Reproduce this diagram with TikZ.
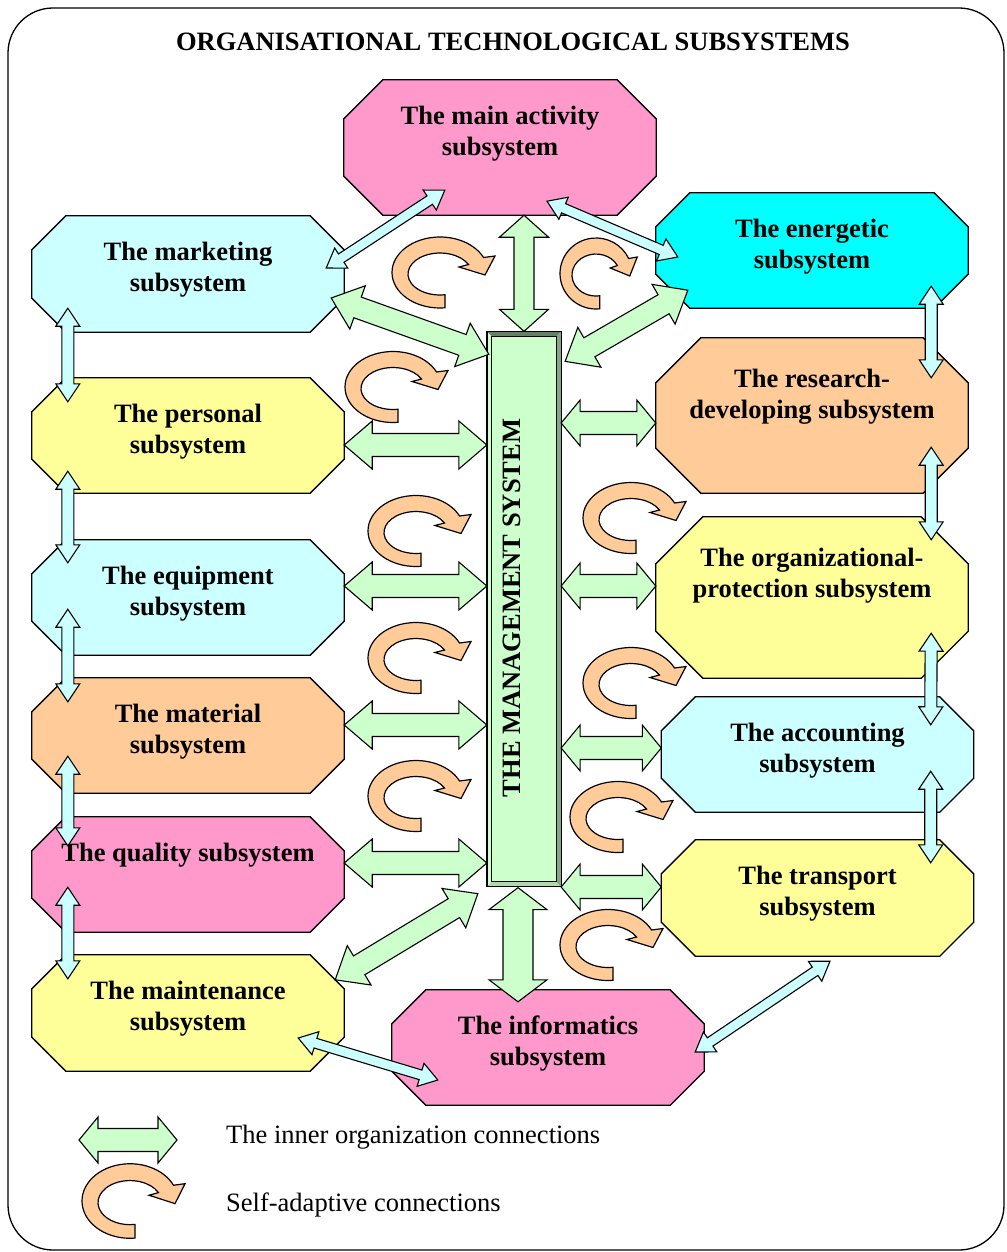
\documentclass[tikz,border=0pt]{standalone}
\usepackage{fontspec}
\setmainfont{Liberation Serif}
\usetikzlibrary{calc}

\definecolor{pinkbox}{HTML}{FF99CC}
\definecolor{lcyan}{HTML}{CCFFFF}
\definecolor{cyanbox}{HTML}{00FFFF}
\definecolor{peach}{HTML}{FFCC99}
\definecolor{lyellow}{HTML}{FFFF99}
\definecolor{lgreen}{HTML}{CCFFCC}

\tikzset{
  subsys/.style={minimum width=312pt, minimum height=#1pt, inner sep=0pt},
  boxtext/.style={font=\bfseries\fontsize{26.5}{31}\selectfont, align=center, inner sep=0pt, anchor=north},
  greenarrow/.style={fill=lgreen, draw=black, line width=1.1pt},
  linkarrow/.style={fill=lcyan, draw=black, line width=1.1pt},
  curl/.pic={
    \begin{scope}[yscale=-1]
      \filldraw[fill=peach, line width=1.2pt]
        (-84:48 and 35.5) arc[start angle=-84, end angle=-335, x radius=48, y radius=35.5]
        -- (55,16.5) -- (45,-2.5) -- (19,5.5) -- (28.5,8)
        arc[start angle=-333, end angle=-81, x radius=32, y radius=21] -- cycle;
    \end{scope}
  },
}

% octagon round a named box: name, chamfer, fill
\newcommand\octagon[3]{%
  \filldraw[fill=#3, line width=1.3pt]
    ($(#1.north west)+(#2pt,0pt)$) -- ($(#1.north east)+(-#2pt,0pt)$)
    -- ($(#1.north east)+(0pt,-#2pt)$) -- ($(#1.south east)+(0pt,#2pt)$)
    -- ($(#1.south east)+(-#2pt,0pt)$) -- ($(#1.south west)+(#2pt,0pt)$)
    -- ($(#1.south west)+(0pt,#2pt)$) -- ($(#1.north west)+(0pt,-#2pt)$) -- cycle;}

% block arrow with two heads: style, from, to, shaft, head, head length
\newcommand\dblarrow[6][greenarrow]{%
  \path let \p1=#2, \p2=#3 in \pgfextra{%
    \pgfmathsetmacro\arrang{atan2(\y2-\y1,\x2-\x1)}%
    \pgfmathsetmacro\arrlen{veclen(\x2-\x1,\y2-\y1)}%
    \pgfmathsetmacro\arrmid{\arrlen-#6}%
    \xdef\arrang{\arrang}\xdef\arrlen{\arrlen}\xdef\arrmid{\arrmid}};
  \filldraw[#1, shift={#2}, rotate=\arrang]
    (0pt,0pt) -- (#6pt,#5pt) -- (#6pt,#4pt) -- (\arrmid pt,#4pt) -- (\arrmid pt,#5pt)
    -- (\arrlen pt,0pt) -- (\arrmid pt,-#5pt) -- (\arrmid pt,-#4pt) -- (#6pt,-#4pt)
    -- (#6pt,-#5pt) -- cycle;}

\begin{document}
\begin{tikzpicture}[x=1pt,y=-1pt]
    \useasboundingbox (0,0) rectangle (1006,1252);
    % frame and title
    \draw[line width=1.3pt, rounded corners=45pt] (8,8) rectangle (1004,1250);
    \node[font=\bfseries\fontsize{26.5}{31}\selectfont] (title) at (513,42) {ORGANISATIONAL TECHNOLOGICAL SUBSYSTEMS};
    % subsystems
    \foreach \sub/\cx/\cy/\h/\ch/\col/\off/\txt in {
        main/500/147.5/135/39/pinkbox/26/{The main activity\\subsystem},
        mkt/188/274/116/34/lcyan/26/{The marketing\\subsystem},
        ene/812/250.5/115/34/cyanbox/26/{The energetic\\subsystem},
        res/812/415.5/155/45/peach/31/{The research-\\developing subsystem},
        per/188/435.5/115/34/lyellow/26/{The personal\\subsystem},
        org/812/597.5/161/47/lyellow/31/{The organizational-\\protection subsystem},
        equ/188/597.5/115/34/lcyan/26/{The equipment\\subsystem},
        mat/188/735.5/115/34/peach/26/{The material\\subsystem},
        acc/817.5/754.5/115/34/lcyan/26/{The accounting\\subsystem},
        qua/188/874.5/115/34/pinkbox/26/{The quality subsystem},
        tra/817.5/898/116/34/lyellow/26/{The transport\\subsystem},
        mai/188/1013/116/34/lyellow/26/{The maintenance\\subsystem},
        inf/548/1047.5/115/34/pinkbox/26/{The informatics\\subsystem}} {
        \node[subsys=\h] (\sub) at (\cx,\cy) {};
        \octagon{\sub}{\ch}{\col}
        \node[boxtext] (\sub-t) at ($(\sub.north)+(0,\off)$) {\txt};
    }
    % management system
    \node[draw, line width=1.3pt, fill=lgreen, minimum width=73pt, minimum height=554pt, inner sep=0pt] (bar) at (524,609) {};
    \fill[lgreen!50!black] (bar.north west) -- (bar.north east) -- ($(bar.north east)+(-5pt,-5pt)$) -- ($(bar.north west)+(5pt,-5pt)$) -- cycle;
    \fill[lgreen!65!black] (bar.north east) -- (bar.south east) -- ($(bar.south east)+(-5pt,5pt)$) -- ($(bar.north east)+(-5pt,-5pt)$) -- cycle;
    \fill[lgreen!85!black] (bar.south west) -- (bar.south east) -- ($(bar.south east)+(-5pt,5pt)$) -- ($(bar.south west)+(5pt,5pt)$) -- cycle;
    \draw[line width=0.8pt] ($(bar.north west)+(5pt,-5pt)$) rectangle ($(bar.south east)+(-5pt,5pt)$);
    \draw[line width=1.3pt] (bar.north west) rectangle (bar.south east);
    \node[rotate=90, font=\bfseries\fontsize{26.5}{31}\selectfont] (bar-t) at (512,608) {THE MANAGEMENT SYSTEM};
    % inner organization connections
    \foreach \sub/\dy in {per/9.5, equ/-11.5, mat/-10.5, qua/-11.5}
        \dblarrow{($(\sub.east)+(0,\dy)$)}{($(\sub.east -| bar.west)+(0,\dy)$)}{11.5}{24}{28};
    \foreach \sub/\dy in {res/7.5, org/-11.5, acc/-6.5, tra/-11}
        \dblarrow{($(\sub.west -| bar.east)+(0,\dy)$)}{($(\sub.west)+(0,\dy)$)}{11.5}{23}{19};
    \dblarrow{(bar.north |- main.south)}{(bar.north)}{10}{24.5}{22};
    \dblarrow{($(bar.south)+(-6,1)$)}{($(bar.south |- inf.north)+(-6,12)$)}{15}{29}{22};
    \dblarrow{($(mkt.east)+(-13,24)$)}{($(bar.north west)+(2,23)$)}{11}{23}{28};
    \dblarrow{($(bar.north east)+(4,30)$)}{($(ene.south west)+(32,-18)$)}{11}{23}{28};
    \dblarrow{($(mai.north east)+(-9,25)$)}{($(bar.south west)+(-9,7)$)}{11}{23}{28};
    % links between subsystems
    \dblarrow[linkarrow]{($(mkt.east)+(-18,-6)$)}{($(main.south west)+(101,-25)$)}{5}{12}{18};
    \dblarrow[linkarrow]{($(main.south)+(47,-14)$)}{($(ene.west)+(22,6.5)$)}{5}{12}{18};
    \dblarrow[linkarrow]{($(inf.east)+(-9,4.5)$)}{($(tra.south)+(12.5,5)$)}{5}{12}{18};
    \dblarrow[linkarrow]{($(mai.east)+(-46,25)$)}{($(inf.west)+(46,32.5)$)}{5}{12}{18};
    \foreach \a/\b/\da/\db in {mkt/per/24/24, per/equ/22/23, equ/mat/46/24, mat/qua/37/29, qua/mai/45/24}
        \dblarrow[linkarrow]{($(\a.south west)+(36,-\da)$)}{($(\b.north west)+(36,\db)$)}{6}{12}{18};
    \foreach \a/\b/\xa/\xb/\da/\db in {ene/res/37/37/22/40, res/org/37/37/46/23, org/acc/37/43/45/28, acc/tra/43/43/41/23}
        \dblarrow[linkarrow]{($(\a.south east)+(-\xa,-\da)$)}{($(\b.north east)+(-\xb,\db)$)}{6}{12}{18};
    % self-adaptive connections
    \pic at (440,272.5) {curl};
    \pic[xscale=0.75] at (596,273.5) {curl};
    \foreach \cx/\cy in {393/387, 631/518, 416/531, 416/658, 631/683, 416/796, 618/817, 608/945}
        \pic at (\cx,\cy) {curl};
    % legend
    \coordinate (lg-a) at (79,1140);
    \coordinate (lg-b) at (177,1140);
    \dblarrow{(lg-a)}{(lg-b)}{11.5}{23}{19};
    \pic[yscale=1.05] at (130,1201) {curl};
    \node[font=\fontsize{26.5}{31}\selectfont, anchor=base west, inner sep=0pt] (lg-t1) at (226,1143) {The inner organization connections};
    \node[font=\fontsize{26.5}{31}\selectfont, anchor=base west, inner sep=0pt] (lg-t2) at (226,1211) {Self-adaptive connections};
\end{tikzpicture}
\end{document}
